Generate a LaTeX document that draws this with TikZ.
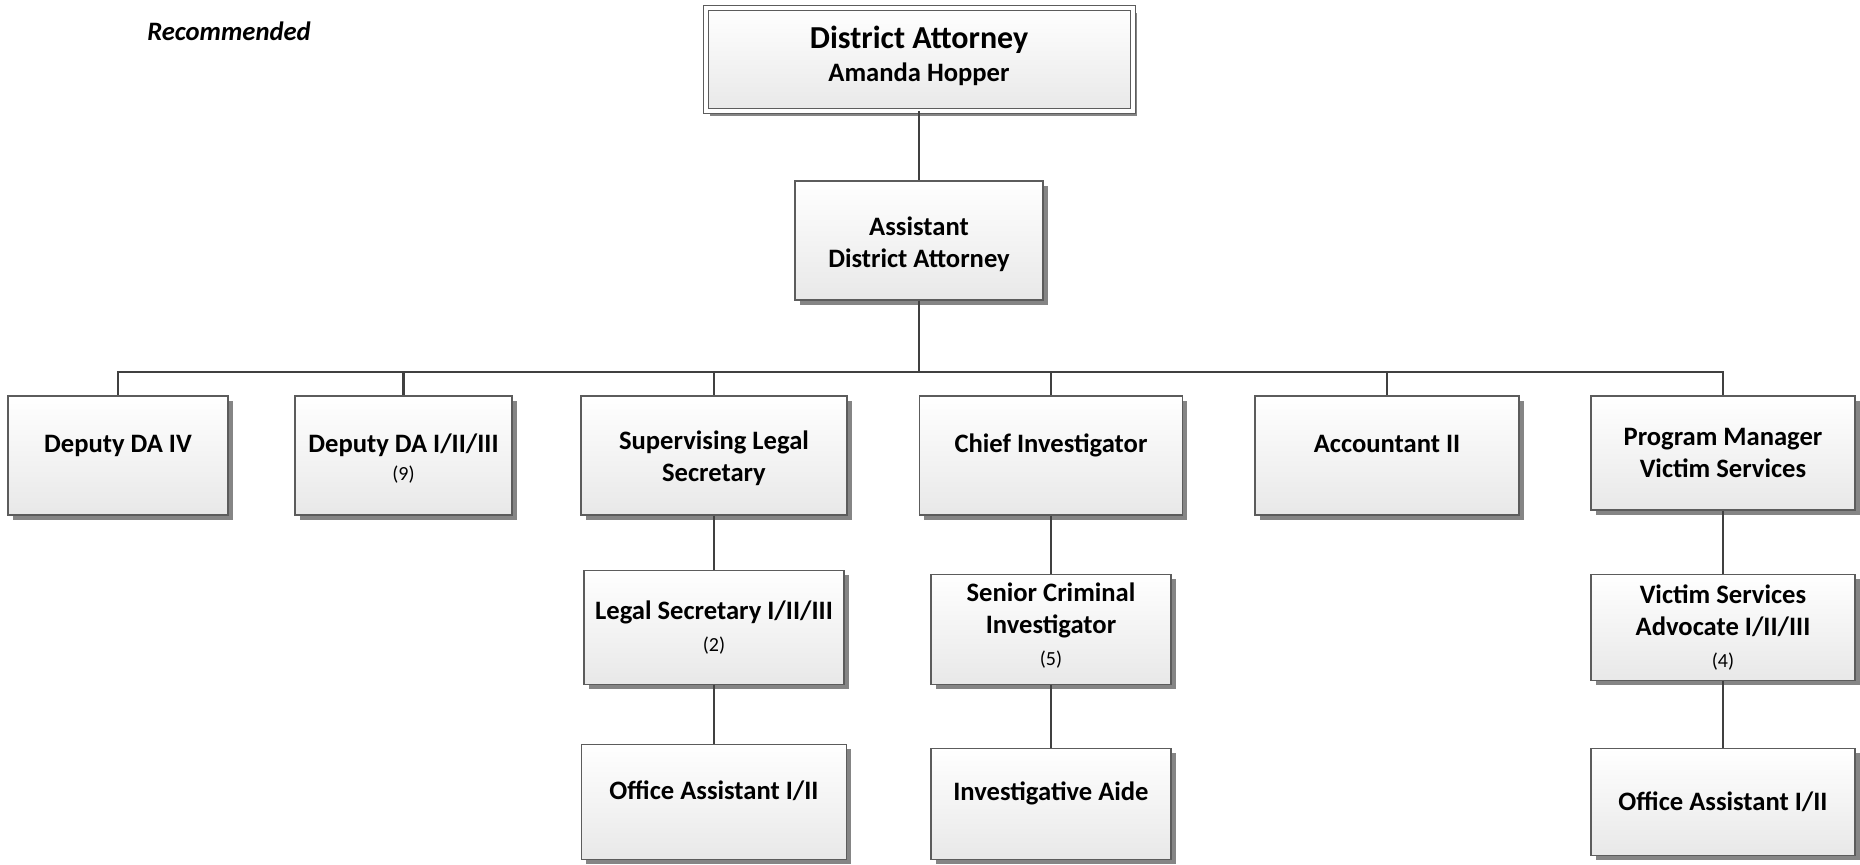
\documentclass[tikz,border=0pt]{standalone}
\usepackage{fontspec}
\setmainfont{Carlito}
\usepackage{tikz}
\usepackage{xcolor}
\usetikzlibrary{positioning,shadows}
\definecolor{boxline}{HTML}{5C5C5C}
\definecolor{wire}{HTML}{404040}
\definecolor{shadowgray}{HTML}{858585}
\newcommand{\staff}[1]{{\normalfont\fontsize{10}{12}\selectfont(#1)}}
\newcommand{\padbot}[1]{\rule[-#1]{0pt}{0pt}}
\tikzstyle{post} = [rectangle, draw=boxline, line width=0.6pt, top color=white, bottom color=black!9, drop shadow={shadow xshift=2.3pt, shadow yshift=-2.3pt, fill=shadowgray, opacity=1}, align=center, inner sep=2pt, font=\bfseries\fontsize{13.3}{16}\selectfont]
\tikzstyle{head} = [post, double=white, double distance=2pt, line width=0.5pt]
\tikzstyle{elbow} = [to path={-| (\tikztotarget)}]

\begin{document}
\begin{tikzpicture}[x=0.5pt,y=-0.5pt,every edge/.style={draw=wire, line width=1.3pt}]
  \useasboundingbox (0,0) rectangle (1860,865);
  \node[font=\bfseries\itshape\fontsize{13.3}{16}\selectfont] (rec) at (229,31) {Recommended};

  \node[head, minimum width=213.5pt, minimum height=51.5pt, font=\bfseries\fontsize{13.3}{16.5}\selectfont] (da) at (919,59.5) {{\fontsize{16}{18}\selectfont District Attorney}\\Amanda Hopper\padbot{6pt}};
  \node[post, minimum width=124pt, minimum height=59.5pt] (ada) [below=34.5pt of da] {\rule{0pt}{13pt}Assistant\\District Attorney};
  \coordinate (bus) at (919,372);

  \node[post, minimum width=110pt, minimum height=59.5pt] (dda4) at (118,455.5) {Deputy DA IV\padbot{12pt}};
  \node[post, minimum width=108.5pt, minimum height=59.5pt] (dda123) at (403.5,455.5) {\rule{0pt}{12pt}Deputy DA I/II/III\\[-2pt]\staff{9}};
  \node[post, minimum width=133pt, minimum height=59.5pt] (sls) at (714,455.5) {\rule{0pt}{12pt}Supervising Legal\\Secretary};
  \node[post, minimum width=131.5pt, minimum height=59.5pt] (chief) at (1051,455.5) {Chief Investigator\padbot{12pt}};
  \node[post, minimum width=132pt, minimum height=59.5pt] (acct) at (1387,455.5) {Accountant II\padbot{12pt}};
  \node[post, minimum width=132pt, minimum height=57pt] (pmvs) at (1723,453) {Program Manager\\Victim Services};

  \node[post, minimum width=130pt, minimum height=57pt] (lsec) [below=27pt of sls] {Legal Secretary I/II/III\\\staff{2}};
  \node[post, minimum width=132.5pt, minimum height=57.5pt] (oa1) [below=29.5pt of lsec] {Office Assistant I/II\padbot{12pt}};
  \node[post, minimum width=120pt, minimum height=55pt] (sci) [below=29pt of chief] {Senior Criminal\\Investigator\\\staff{5}\padbot{5.5pt}};
  \node[post, minimum width=120pt, minimum height=55.5pt] (aide) [below=31.5pt of sci] {Investigative Aide\padbot{12.5pt}};
  \node[post, minimum width=132pt, minimum height=53pt] (vsa) [below=31.5pt of pmvs] {Victim Services\\Advocate I/II/III\\\staff{4}};
  \node[post, minimum width=132pt, minimum height=53.5pt] (oa2) [below=33.5pt of vsa] {Office Assistant I/II};

  \path (da) edge (ada);
  \path (ada) edge (bus);
  \foreach \n in {dda4,dda123,sls,chief,acct,pmvs}
    \path (bus) edge[elbow] (\n);
  \path (sls) edge (lsec);
  \path (lsec) edge (oa1);
  \path (chief) edge (sci);
  \path (sci) edge (aide);
  \path (pmvs) edge (vsa);
  \path (vsa) edge (oa2);
\end{tikzpicture}
\end{document}
